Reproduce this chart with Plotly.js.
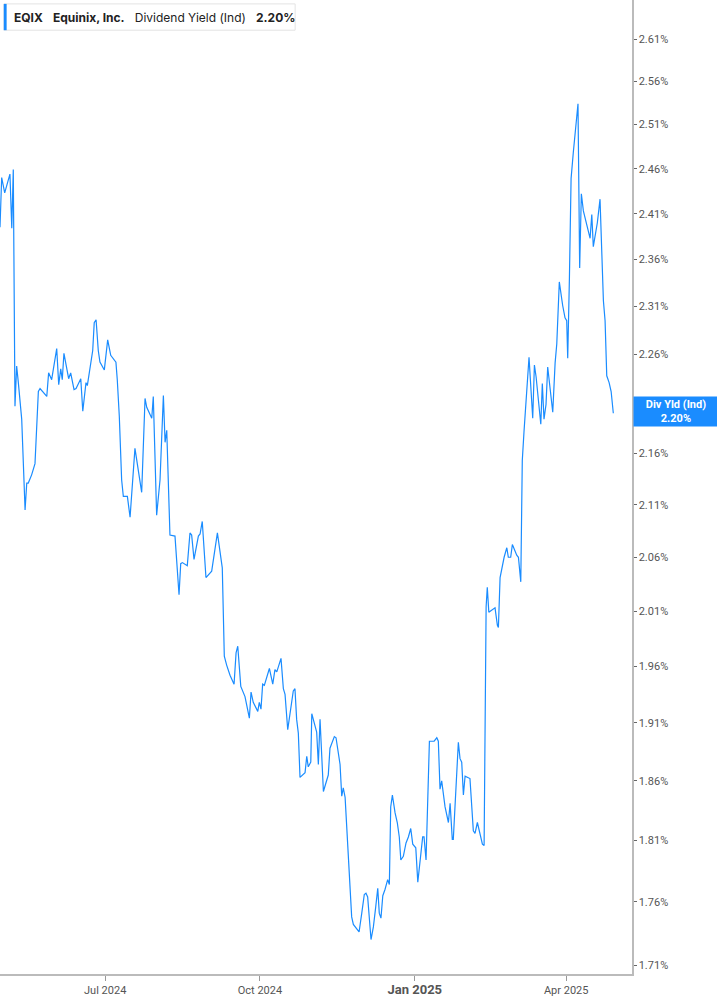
<!DOCTYPE html>
<html>
<head>
<meta charset="utf-8">
<script src="https://cdn.plot.ly/plotly-3.0.1.min.js"></script>
<style>
  html, body { margin: 0; padding: 0; background: #fff; }
  #plot { width: 717px; height: 1005px; }
</style>
</head>
<body>
<div id="plot"></div>
<script>
// days since 2024-04-29 noon
const days = [
  0, 1.0, 2.8, 5.9, 7.0, 7.9, 8.9, 9.9, 10.9, 12.9, 14.9, 15.9, 16.8, 18.8, 20.8, 22.8, 23.8, 27.8, 28.9, 30.7,
  33.7, 34.9, 36.1, 37.0, 38.0, 40.8, 42.0, 44.0, 45.2, 48.0, 49.2, 51.1, 51.9, 55.1, 56.0, 57.1, 58.4, 59.4, 62.0, 64.0,
  65.8, 68.9, 69.7, 70.9, 72.3, 73.3, 75.7, 77.3, 80.2, 84.2, 86.2, 87.2, 90.2, 91.1, 93.1, 95.1, 97.1, 98.1, 99.1, 101.0,
  104.0, 106.4, 107.4, 108.4, 111.3, 112.9, 113.9, 115.3, 117.9, 118.9, 120.2, 122.4, 125.8, 129.2, 132.1, 133.3, 134.7, 136.7, 139.1, 140.3,
  141.3, 143.1, 145.6, 148.2, 149.2, 150.5, 153.2, 154.1, 155.1, 156.1, 157.1, 160.1, 162.1, 163.4, 164.5, 167.0, 168.4, 169.4, 171.0, 174.3,
  175.3, 176.3, 177.3, 178.3, 181.3, 182.3, 183.2, 184.7, 185.3, 188.2, 189.2, 190.2, 192.2, 195.1, 196.1, 198.7, 199.7, 202.1, 203.1, 204.0,
  205.1, 207.0, 209.0, 210.0, 211.6, 213.4, 215.0, 216.5, 217.5, 218.5, 220.5, 221.9, 223.3, 224.5, 225.4, 226.4, 227.5, 228.8, 230.4, 231.4,
  232.2, 233.2, 234.8, 236.1, 237.3, 238.2, 239.7, 241.3, 242.7, 244.1, 245.3, 247.1, 248.3, 250.2, 251.2, 252.0, 253.2, 255.2, 258.0, 259.6,
  260.5, 261.5, 262.5, 264.5, 266.5, 267.5, 268.8, 269.4, 272.4, 273.4, 274.4, 275.4, 276.4, 279.3, 281.3, 282.3, 283.7, 286.7, 287.7, 288.9,
  289.6, 290.5, 294.2, 295.6, 296.2, 297.2, 298.2, 299.6, 301.2, 302.1, 303.5, 304.5, 307.1, 308.1, 309.5, 310.4, 311.4, 312.6, 314.4, 316.6,
  317.6, 318.6, 321.4, 322.3, 323.3, 324.5, 325.5, 328.5, 329.9, 330.9, 332.4, 334.4, 335.8, 336.8, 337.4, 338.4, 339.4, 340.7, 342.3, 343.5,
  344.5, 345.5, 346.7, 349.3, 350.7, 351.7, 352.6, 355.0, 356.6, 358.6, 359.6, 360.6, 362.0, 363.2, 364.5
];

// dividend yield, %
const yieldPct = [
  2.395, 2.450, 2.433, 2.454, 2.394, 2.459, 2.207, 2.248, 2.231, 2.194, 2.105, 2.131, 2.131, 2.139, 2.150, 2.222, 2.225, 2.217, 2.241, 2.234,
  2.266, 2.229, 2.245, 2.234, 2.261, 2.235, 2.241, 2.224, 2.225, 2.235, 2.202, 2.231, 2.228, 2.264, 2.293, 2.296, 2.264, 2.252, 2.244, 2.275,
  2.259, 2.252, 2.234, 2.197, 2.134, 2.118, 2.118, 2.098, 2.165, 2.122, 2.215, 2.206, 2.195, 2.217, 2.100, 2.134, 2.218, 2.171, 2.183, 2.081,
  2.080, 2.025, 2.054, 2.055, 2.052, 2.083, 2.081, 2.058, 2.080, 2.082, 2.094, 2.041, 2.047, 2.083, 2.050, 1.969, 1.961, 1.952, 1.944, 1.972,
  1.978, 1.942, 1.933, 1.914, 1.937, 1.928, 1.920, 1.928, 1.922, 1.944, 1.943, 1.958, 1.944, 1.957, 1.955, 1.967, 1.940, 1.935, 1.904, 1.938,
  1.940, 1.913, 1.901, 1.863, 1.867, 1.881, 1.872, 1.876, 1.918, 1.902, 1.874, 1.913, 1.851, 1.865, 1.888, 1.898, 1.897, 1.874, 1.847, 1.854,
  1.846, 1.794, 1.748, 1.742, 1.739, 1.736, 1.751, 1.766, 1.767, 1.764, 1.730, 1.740, 1.756, 1.771, 1.751, 1.747, 1.765, 1.770, 1.778, 1.774,
  1.838, 1.848, 1.833, 1.825, 1.813, 1.794, 1.797, 1.808, 1.813, 1.820, 1.807, 1.804, 1.776, 1.801, 1.813, 1.813, 1.794, 1.894, 1.894, 1.897,
  1.894, 1.853, 1.860, 1.838, 1.825, 1.841, 1.811, 1.811, 1.893, 1.879, 1.876, 1.848, 1.864, 1.862, 1.818, 1.816, 1.825, 1.807, 1.806, 2.014,
  2.032, 2.009, 2.013, 1.997, 1.995, 2.041, 2.050, 2.060, 2.069, 2.060, 2.060, 2.072, 2.062, 2.060, 2.037, 2.153, 2.181, 2.211, 2.257, 2.195,
  2.249, 2.237, 2.189, 2.230, 2.194, 2.209, 2.247, 2.201, 2.251, 2.271, 2.336, 2.311, 2.298, 2.295, 2.256, 2.340, 2.449, 2.478, 2.509, 2.534,
  2.351, 2.432, 2.413, 2.395, 2.383, 2.409, 2.374, 2.400, 2.426, 2.316, 2.295, 2.238, 2.231, 2.222, 2.200
];

// 2.21% sits under the last-value box, so it is left out
const yTicks = [1.71, 1.76, 1.81, 1.86, 1.91, 1.96, 2.01, 2.06, 2.11, 2.16, 2.26, 2.31, 2.36, 2.41, 2.46, 2.51, 2.56, 2.61];
const xTicks = ['2024-07-01', '2024-10-01', '2025-01-01', '2025-04-01'];
const xTickLabels = ['Jul 2024', 'Oct 2024', '<b style="font-size:13px">Jan 2025</b>', 'Apr 2025'];

const BLUE = '#1a8cff';
const DAY = 86400000;
const t0 = Date.UTC(2024, 3, 29, 12);
const lastVal = yieldPct[yieldPct.length - 1];

const trace = {
  x: days.map(d => t0 + d * DAY),
  y: yieldPct,
  type: 'scatter',
  mode: 'lines',
  line: {color: BLUE, width: 1.2},
  hoverinfo: 'skip'
};

const layout = {
  width: 717,
  height: 1005,
  margin: {l: 0, r: 85, t: 0, b: 31},
  paper_bgcolor: '#fff',
  plot_bgcolor: '#fff',
  font: {family: 'Roboto, "Liberation Sans", sans-serif', size: 11, color: '#555'},
  showlegend: false,
  xaxis: {
    type: 'date',
    range: [t0, t0 + 375.6 * DAY],
    tickvals: xTicks,
    ticktext: xTickLabels,
    ticks: 'outside',
    ticklen: 5,
    tickcolor: '#999',
    showgrid: false,
    zeroline: false,
    showline: true,
    linecolor: '#bbb',
    linewidth: 1.5,
    tickfont: {size: 11, color: '#555'}
  },
  yaxis: {
    type: 'log',
    side: 'right',
    range: [Math.log10(1.703), Math.log10(2.657)],
    tickvals: yTicks,
    ticktext: yTicks.map(v => v.toFixed(2) + '%'),
    ticks: 'outside',
    ticklen: 3,
    tickcolor: '#666',
    showgrid: false,
    zeroline: false,
    showline: true,
    linecolor: '#bbb',
    linewidth: 1.5,
    tickfont: {size: 11, color: '#555'}
  },
  shapes: [
    {type: 'rect', xref: 'paper', yref: 'paper', x0: 0.006, x1: 0.467, y0: 0.969, y1: 0.996,
      line: {color: '#e3e3e3', width: 1}, fillcolor: '#fff', layer: 'above'},
    {type: 'rect', xref: 'paper', yref: 'paper', x0: 0.006, x1: 0.0105, y0: 0.969, y1: 0.996,
      line: {width: 0}, fillcolor: BLUE, layer: 'above'}
  ],
  annotations: [
    {
      xref: 'paper', yref: 'paper', x: 0.019, y: 0.9825, xanchor: 'left', yanchor: 'middle',
      showarrow: false,
      text: '<b>EQIX</b>   <b>Equinix, Inc.</b>   Dividend Yield (Ind)   <b>2.20%</b>',
      font: {family: 'Inter, Roboto, sans-serif', size: 12, color: '#222'}
    },
    {
      xref: 'paper', yref: 'y', x: 1, y: Math.log10(lastVal), xanchor: 'left', yanchor: 'middle',
      xshift: 1,
      yshift: 2,
      showarrow: false,
      text: '<b>Div Yld (Ind)</b><br><b>' + lastVal.toFixed(2) + '%</b>',
      align: 'center',
      width: 80,
      height: 25,
      bgcolor: BLUE,
      borderpad: 2,
      font: {family: 'Roboto, sans-serif', size: 11, color: '#fff'}
    }
  ]
};

Plotly.newPlot('plot', [trace], layout, {displayModeBar: false, staticPlot: true});
</script>
</body>
</html>
